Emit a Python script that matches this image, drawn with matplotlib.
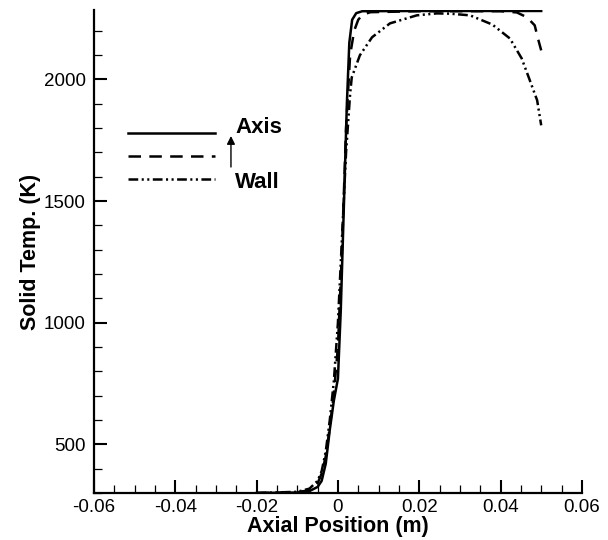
import matplotlib
matplotlib.use("Agg")
import matplotlib.pyplot as plt
from matplotlib.ticker import MultipleLocator

plt.rcParams['font.family'] = ['Liberation Sans', 'DejaVu Sans']
plt.rcParams['lines.scale_dashes'] = False

# Data (axial position in m, solid temperature in K)
x_axis = [-0.02, -0.01, -0.007, -0.005, -0.004, -0.003, -0.002, -0.001, 0.0, 0.0007,
          0.0015, 0.0022, 0.0028, 0.0035, 0.0045, 0.006, 0.02, 0.04, 0.05]
t_axis = [300, 302, 308, 325, 350, 420, 560, 680, 770, 1050,
          1500, 1900, 2150, 2245, 2272, 2280, 2281, 2281, 2281]

x_mid = [-0.02, -0.01, -0.007, -0.005, -0.004, -0.003, -0.002, -0.001, 0.0, 0.001,
         0.002, 0.003, 0.004, 0.005, 0.006, 0.008, 0.02, 0.04, 0.044, 0.0465,
         0.0484, 0.0492, 0.05]
t_mid = [300, 303, 312, 340, 380, 450, 570, 710, 900, 1300,
         1800, 2100, 2200, 2245, 2265, 2276, 2280, 2280, 2275, 2255,
         2222, 2168, 2119]

x_wall = [-0.02, -0.01, -0.007, -0.005, -0.004, -0.003, -0.002, -0.001, 0.0, 0.001,
          0.002, 0.003, 0.0034, 0.0054, 0.0084, 0.0128, 0.0194, 0.0243, 0.0275, 0.0325,
          0.038, 0.0423, 0.0452, 0.0472, 0.049, 0.05]
t_wall = [300, 305, 318, 350, 390, 470, 600, 760, 1000, 1350,
          1700, 1940, 2008, 2099, 2173, 2230, 2263, 2271, 2270, 2263,
          2225, 2168, 2086, 1996, 1914, 1811]

xticks = [-0.06, -0.04, -0.02, 0, 0.02, 0.04, 0.06]
xticklabels = ['-0.06', '-0.04', '-0.02', '0', '0.02', '0.04', '0.06']
yticks = [500, 1000, 1500, 2000]

fig = plt.figure(figsize=(6.08, 5.40), dpi=100)
ax = fig.add_axes([0.1546, 0.087, 0.957 - 0.1546, 0.9815 - 0.087])

lw = 1.8
ax.plot(x_axis, t_axis, color='black', lw=lw, linestyle='-')
ax.plot(x_mid, t_mid, color='black', lw=lw, linestyle=(0, (9, 6)))
ax.plot(x_wall, t_wall, color='black', lw=lw, linestyle=(0, (7, 2.5, 1.5, 2.5, 1.5, 2.5)))

ax.set_xlim(-0.06, 0.06)
ax.set_ylim(300, 2285)
ax.set_xticks(xticks)
ax.set_xticklabels(xticklabels)
ax.set_yticks(yticks)
ax.xaxis.set_minor_locator(MultipleLocator(0.005))
ax.yaxis.set_minor_locator(MultipleLocator(100))

for s in ['top', 'right']:
    ax.spines[s].set_visible(False)
for s in ['left', 'bottom']:
    ax.spines[s].set_linewidth(1.6)

ax.tick_params(which='major', direction='in', length=9.5, width=1.5, labelsize=13.5, pad=4)
ax.tick_params(which='minor', direction='in', length=5.5, width=0.9)
ax.tick_params(axis='y', which='major', pad=6)

ax.set_xlabel('Axial Position (m)', fontsize=15.5, fontweight='bold', labelpad=0)
ax.set_ylabel('Solid Temp. (K)', fontsize=15.5, fontweight='bold', labelpad=2)

# legend drawn in axes-fraction coordinates
def fx(px):
    return (px - 94) / (582 - 94)

def fy(py):
    return (493 - py) / (493 - 10)

for py, ls in [(133, '-'), (156, (0, (9, 6))), (179, (0, (7, 2.5, 1.5, 2.5, 1.5, 2.5)))]:
    ax.plot([fx(128), fx(215)], [fy(py), fy(py)], transform=ax.transAxes,
            color='black', lw=lw, linestyle=ls, clip_on=False)

ax.text(fx(235), fy(128), 'Axis', transform=ax.transAxes, fontsize=16,
        fontweight='bold', ha='left', va='center')
ax.text(fx(235), fy(182), 'Wall', transform=ax.transAxes, fontsize=16,
        fontweight='bold', ha='left', va='center')
ax.annotate('', xy=(fx(231), fy(136)), xytext=(fx(231), fy(167)),
            xycoords='axes fraction', textcoords='axes fraction',
            arrowprops=dict(arrowstyle='-|>', color='black', lw=1.0,
                            mutation_scale=12, shrinkA=0, shrinkB=0))

fig.savefig('out.png', dpi=100)
